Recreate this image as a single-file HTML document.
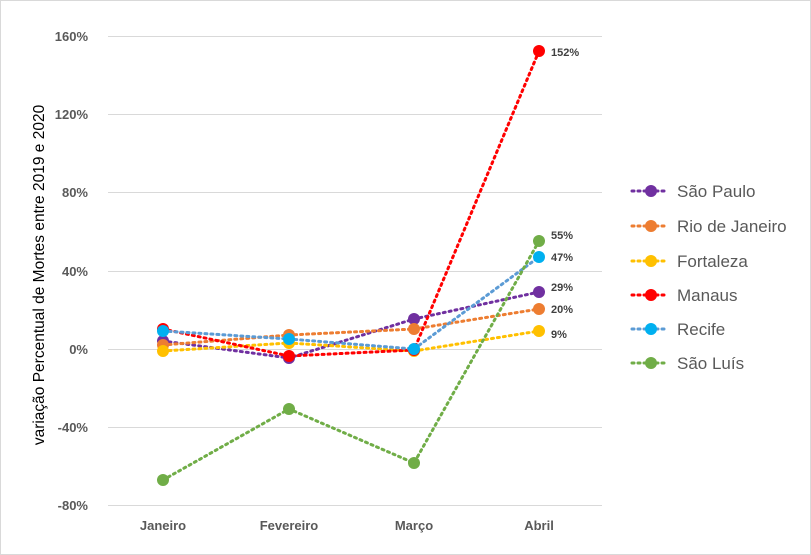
<!DOCTYPE html>
<html><head><meta charset="utf-8"><style>
body{margin:0;background:#fff;}
svg{display:block;font-family:"Liberation Sans",sans-serif;}
</style></head><body>
<svg width="811" height="555" viewBox="0 0 811 555">
<rect x="0.5" y="0.5" width="810" height="554" fill="#fff" stroke="#d9d9d9"/>
<g stroke="#d9d9d9" stroke-width="1">
<line x1="108" x2="602" y1="36.5" y2="36.5"/>
<line x1="108" x2="602" y1="114.5" y2="114.5"/>
<line x1="108" x2="602" y1="192.5" y2="192.5"/>
<line x1="108" x2="602" y1="271.5" y2="271.5"/>
<line x1="108" x2="602" y1="349.5" y2="349.5"/>
<line x1="108" x2="602" y1="427.5" y2="427.5"/>
<line x1="108" x2="602" y1="505.5" y2="505.5"/>
</g>
<g font-size="13" font-weight="bold" fill="#595959" text-anchor="end">
<text x="88" y="41">160%</text><text x="88" y="119">120%</text><text x="88" y="197">80%</text>
<text x="88" y="276">40%</text><text x="88" y="354">0%</text><text x="88" y="432">-40%</text><text x="88" y="510">-80%</text>
</g>
<g font-size="13" font-weight="bold" fill="#595959" text-anchor="middle">
<text x="163" y="530">Janeiro</text><text x="289" y="530">Fevereiro</text><text x="414" y="530">Março</text><text x="539" y="530">Abril</text>
</g>
<text transform="translate(44,275) rotate(-90)" font-size="15.5" fill="#000" text-anchor="middle">variação Percentual de Mortes entre 2019 e 2020</text>
<g fill="none" stroke-width="3" stroke-dasharray="2 4" stroke-linecap="round">
<polyline stroke="#7030A0" points="163,341 289,358 414,319 539,292"/>
<polyline stroke="#ED7D31" points="163,345 289,335 414,329 539,309"/>
<polyline stroke="#FFC000" points="163,351 289,343 414,351 539,331"/>
<polyline stroke="#FF0000" points="163,329 289,356 414,350 539,51"/>
<polyline stroke="#5B9BD5" points="163,331 289,339 414,349 539,257"/>
<polyline stroke="#70AD47" points="163,480 289,409 414,463 539,241"/>
</g>
<g>
<g fill="#7030A0"><circle cx="163" cy="341" r="6"/><circle cx="289" cy="358" r="6"/><circle cx="414" cy="319" r="6"/><circle cx="539" cy="292" r="6"/></g>
<g fill="#ED7D31"><circle cx="163" cy="345" r="6"/><circle cx="289" cy="335" r="6"/><circle cx="414" cy="329" r="6"/><circle cx="539" cy="309" r="6"/></g>
<g fill="#FFC000"><circle cx="163" cy="351" r="6"/><circle cx="289" cy="343" r="6"/><circle cx="414" cy="351" r="6"/><circle cx="539" cy="331" r="6"/></g>
<g fill="#FF0000"><circle cx="163" cy="329" r="6"/><circle cx="289" cy="356" r="6"/><circle cx="414" cy="350" r="6"/><circle cx="539" cy="51" r="6"/></g>
<g fill="#00B0F0"><circle cx="163" cy="331" r="6"/><circle cx="289" cy="339" r="6"/><circle cx="414" cy="349" r="6"/><circle cx="539" cy="257" r="6"/></g>
<g fill="#70AD47"><circle cx="163" cy="480" r="6"/><circle cx="289" cy="409" r="6"/><circle cx="414" cy="463" r="6"/><circle cx="539" cy="241" r="6"/></g>
</g>
<g font-size="11" font-weight="bold" fill="#404040">
<text x="551" y="56">152%</text><text x="551" y="239">55%</text><text x="551" y="261">47%</text>
<text x="551" y="291">29%</text><text x="551" y="313">20%</text><text x="551" y="338">9%</text>
</g>
<g stroke-width="3" stroke-dasharray="2 4" stroke-linecap="round" fill="none">
<line x1="632" x2="668" y1="191" y2="191" stroke="#7030A0"/>
<line x1="632" x2="668" y1="226" y2="226" stroke="#ED7D31"/>
<line x1="632" x2="668" y1="261" y2="261" stroke="#FFC000"/>
<line x1="632" x2="668" y1="295" y2="295" stroke="#FF0000"/>
<line x1="632" x2="668" y1="329" y2="329" stroke="#5B9BD5"/>
<line x1="632" x2="668" y1="363" y2="363" stroke="#70AD47"/>
</g>
<circle cx="651" cy="191" r="6" fill="#7030A0"/><circle cx="651" cy="226" r="6" fill="#ED7D31"/>
<circle cx="651" cy="261" r="6" fill="#FFC000"/><circle cx="651" cy="295" r="6" fill="#FF0000"/>
<circle cx="651" cy="329" r="6" fill="#00B0F0"/><circle cx="651" cy="363" r="6" fill="#70AD47"/>
<g font-size="17" fill="#595959">
<text x="677" y="197">São Paulo</text><text x="677" y="232">Rio de Janeiro</text><text x="677" y="267">Fortaleza</text>
<text x="677" y="301">Manaus</text><text x="677" y="335">Recife</text><text x="677" y="369">São Luís</text>
</g>
</svg>
</body></html>
